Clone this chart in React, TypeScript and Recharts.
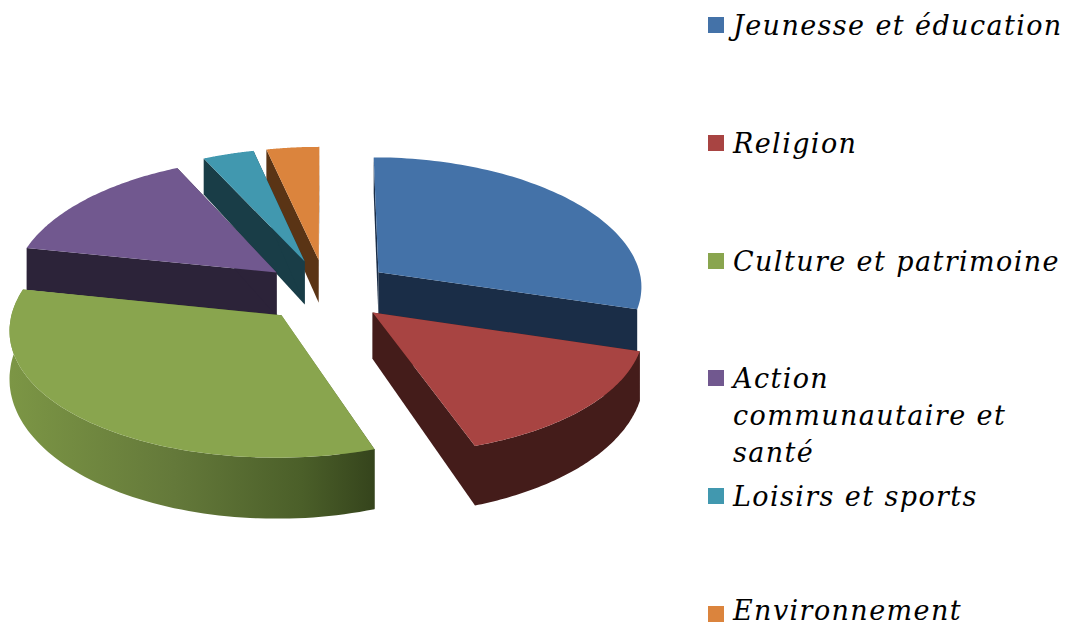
import React from "react";
import { PieChart, Pie, Legend } from "recharts";

const categories = ["Jeunesse et éducation", "Religion", "Culture et patrimoine", "Action communautaire et santé", "Loisirs et sports", "Environnement"];
const values = [29.7, 15.0, 33.5, 14.7, 3.5, 3.6];
const topColors = ["#4472a8", "#a84442", "#89a54e", "#71588f", "#4198af", "#db843d"];
const wallColors = ["#1a2d47", "#441c1a", "url(#greenWall)", "#2c2339", "#193d47", "#5a3415"];
const explode = [0.25, 0.24, 0.25, 0.24, 0.25, 0.25];
const outerWallVisible = [false, true, true, false, false, false];
const drawOrder = [5, 4, 3, 0, 1, 2];
const legendTextShift = [0, 0, 0, 0, 0, -4];

const CX = 326;
const CY = 291;
const RX = 265;
const RY = 127;
const PERSP_X = 0.1;
const PERSP_Y = 0.08;
const PERSP_Z = 0.22;
const DEPTH = 45;

const data = categories.map((name, i) => ({ name, value: values[i], fill: topColors[i] }));

function poly(pts: number[][]) {
  return "M" + pts.map((p) => p[0].toFixed(1) + "," + p[1].toFixed(1)).join("L") + "Z";
}

function SliceShape(layer: number) {
  return function Shape(props: any) {
    const { cx, cy, outerRadius, startAngle, endAngle, index, fill } = props;
    const idx = index ?? categories.indexOf(props.name);
    if (idx !== layer) return <g />;
    const mid = ((startAngle + endAngle) / 2) * (Math.PI / 180);
    const ou = Math.cos(mid) * explode[idx];
    const ov = -Math.sin(mid) * explode[idx];
    const proj = (u: number, v: number, z: number) => [
      cx + (outerRadius * u) / (1 - PERSP_X * v),
      cy + (RY * v) / (1 - PERSP_Y * v) + (DEPTH * z) / (1 - PERSP_Z * v),
    ];
    const steps = 80;
    const arc: number[][] = [];
    for (let s = 0; s <= steps; s++) {
      const a = ((startAngle + ((endAngle - startAngle) * s) / steps) * Math.PI) / 180;
      arc.push([ou + Math.cos(a), ov - Math.sin(a)]);
    }
    const top = [proj(ou, ov, 0), ...arc.map((p) => proj(p[0], p[1], 0))];
    const outerWall = [...arc.map((p) => proj(p[0], p[1], 0)), ...arc.slice().reverse().map((p) => proj(p[0], p[1], 1))];
    const first = arc[0];
    const last = arc[arc.length - 1];
    const wall = (p: number[]) => [proj(ou, ov, 0), proj(p[0], p[1], 0), proj(p[0], p[1], 1), proj(ou, ov, 1)];
    const c = wallColors[idx];
    return (
      <g>
        <defs>
          <linearGradient id="greenWall" x1="0" y1="0" x2="1" y2="0">
            <stop offset="0%" stopColor="#7c9645" />
            <stop offset="45%" stopColor="#64793a" />
            <stop offset="80%" stopColor="#4b5f29" />
            <stop offset="100%" stopColor="#35441c" />
          </linearGradient>
        </defs>
        <path d={poly(wall(first))} fill={c} stroke="none" />
        <path d={poly(wall(last))} fill={c} stroke="none" />
        {outerWallVisible[idx] && <path d={poly(outerWall)} fill={c} stroke="none" />}
        <path d={poly(top)} fill={fill} stroke="none" />
      </g>
    );
  };
}

function LegendList() {
  return (
    <div style={{ position: "absolute", left: 708, top: 8, width: 363, fontFamily: "'DejaVu Serif', serif", fontStyle: "italic", fontSize: 27, letterSpacing: 1.4, lineHeight: "37px", color: "#000" }}>
      {categories.map((name, i) => (
        <div key={name} style={{ position: "absolute", top: i * 117.8 - 1, left: 0, height: 30, width: 360, display: "flex" }}>
          <span style={{ width: 16, height: 16, marginTop: 10, marginRight: 9, flex: "none", background: topColors[i] }} />
          <span style={{ width: i === 3 ? 300 : 340, position: "relative", top: legendTextShift[i] }}>{name}</span>
        </div>
      ))}
    </div>
  );
}

export default function App() {
  return (
    <div style={{ position: "absolute", left: 0, top: 0, width: 1071, height: 625, background: "#fff", overflow: "hidden" }}>
      <PieChart width={1071} height={625} margin={{ top: 0, right: 0, bottom: 0, left: 0 }}>
        {drawOrder.map((layer) => {
          const S = SliceShape(layer);
          return (
            <Pie
              key={layer}
              data={data}
              dataKey="value"
              nameKey="name"
              cx={CX}
              cy={CY}
              outerRadius={RX}
              startAngle={90}
              endAngle={-270}
              stroke="none"
              isAnimationActive={false}
              legendType="none"
              shape={S as any}
              {...({ inactiveShape: S, activeShape: S } as any)}
            />
          );
        })}
        <Legend content={() => null} />
      </PieChart>
      <LegendList />
    </div>
  );
}
